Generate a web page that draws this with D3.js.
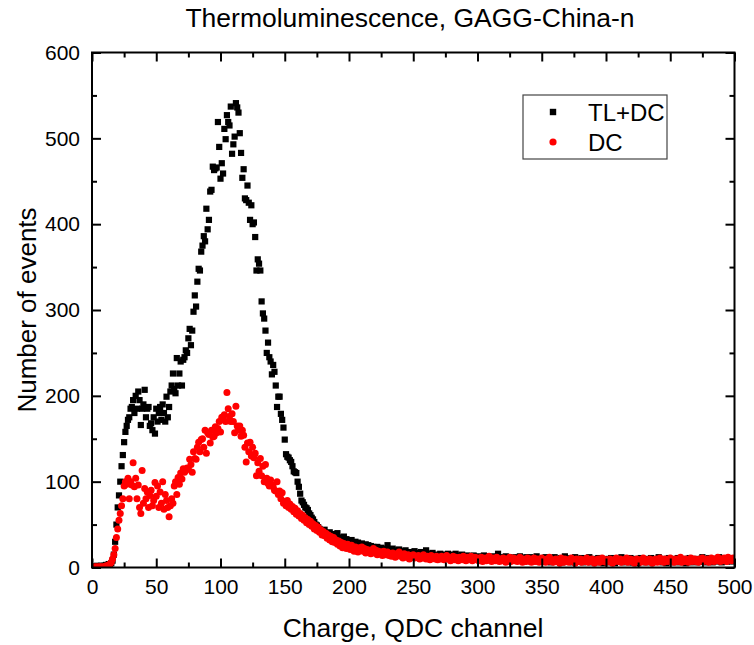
<!DOCTYPE html>
<html>
<head>
<meta charset="utf-8">
<script src="https://cdn.jsdelivr.net/npm/d3@7/dist/d3.min.js"></script>
<style>
  html, body { margin: 0; padding: 0; background: #fff; }
  svg { display: block; font-family: "Liberation Sans", Arial, sans-serif; }
</style>
</head>
<body>
<svg id="chart" width="754" height="645"></svg>
<script>
// ---- Data (channel index = array position, 0..500) ----
const chartTitle = "Thermoluminescence, GAGG-China-n";
const xLabel = "Charge, QDC channel";
const yLabel = "Number of events";
const seriesNames = ["TL+DC", "DC"];

const tlDC = [
0,1,0,1,2,1,1,2,1,2,
2,3,2,4,3,5,8,15,30,50,
70,84,100,118,131,146,158,165,172,175,
185,187,195,180,200,185,205,195,166,185,
190,207,175,185,187,165,168,160,175,156,
185,170,180,187,172,190,180,170,199,175,
187,205,212,226,208,203,244,212,226,240,
212,242,245,253,250,267,278,259,276,298,
317,304,333,348,346,368,375,386,380,418,
394,405,438,440,467,463,465,466,519,490,
453,471,459,511,499,527,519,515,537,482,
493,502,541,536,530,506,483,454,464,430,
428,445,425,405,422,400,402,385,346,359,
354,346,310,296,290,276,250,262,245,240,
225,236,228,212,187,199,199,179,172,163,
149,132,129,128,125,123,118,112,111,110,
100,94,86,78,76,73,70,69,67,63,
61,58,56,53,50,49,47,45,43,42,
41,44,38,40,36,41,35,37,39,34,
37,40,33,35,31,34,36,30,33,29,
30,27,32,28,26,30,25,29,27,24,
28,25,23,27,24,26,22,25,21,24,
23,20,24,22,19,23,21,18,22,20,
26,19,21,18,22,17,20,19,16,21,
18,15,19,17,20,16,14,18,15,17,
16,19,14,17,13,16,18,12,15,17,
20,14,16,12,15,17,13,15,11,14,
13,16,12,14,15,11,13,16,12,14,
12,15,11,16,13,10,14,12,15,11,
13,10,14,12,9,13,11,14,10,12,
11,13,9,12,10,14,8,11,13,9,
12,10,8,13,11,9,16,10,12,8,
11,9,13,10,7,12,9,11,8,10,
12,8,10,13,9,11,7,10,12,8,
10,12,7,9,11,8,13,9,10,7,
9,11,8,12,7,10,9,6,11,8,
12,9,7,10,8,11,6,9,13,8,
10,7,9,11,6,8,12,7,9,10,
8,11,6,9,7,10,8,12,6,9,
7,10,8,6,11,9,7,10,5,8,
9,6,10,8,11,7,9,5,8,10,
7,9,12,6,8,10,7,9,6,11,
8,6,10,7,9,5,8,11,7,9,
10,6,8,9,7,11,6,8,10,7,
9,12,7,8,6,10,8,5,9,11,
7,9,6,10,8,7,11,6,9,8,
10,7,5,9,8,11,6,9,7,10,
8,6,9,7,10,12,7,8,6,9,
11,7,9,6,8,10,7,9,12,8,
6,9,8,10,7,9,11,8,7,9,
10
];

const dcOnly = [
0,0,1,0,1,0,1,1,0,1,
1,2,1,3,4,6,10,15,22,35,
45,55,63,72,80,95,100,97,104,80,
100,96,122,94,104,80,96,70,63,113,
75,92,80,88,70,84,90,72,78,99,
83,95,70,88,75,100,68,85,78,70,
59,72,80,75,95,100,85,105,97,110,
103,115,111,113,116,115,126,120,111,135,
127,126,140,146,135,149,150,140,160,133,
157,155,145,160,152,153,164,157,162,170,
158,175,172,178,170,204,185,176,170,179,
170,157,188,165,160,165,153,160,154,140,
123,145,135,146,130,140,128,133,107,122,
112,127,107,118,100,120,104,98,95,102,
96,94,90,89,100,85,89,80,87,75,
77,72,78,70,74,68,71,65,69,62,
66,60,63,57,61,55,58,52,56,50,
54,48,51,45,49,43,47,41,44,38,
42,37,40,34,38,32,36,30,35,29,
32,27,31,25,29,23,28,26,22,27,
25,21,26,23,19,24,22,18,23,20,
24,19,22,17,21,18,20,16,19,22,
17,20,15,19,16,18,14,19,15,17,
18,14,16,13,17,15,12,16,14,18,
13,15,11,16,14,12,15,10,14,13,
15,11,13,12,14,10,13,11,15,12,
10,13,12,9,14,11,12,10,13,9,
12,10,13,11,9,12,14,10,11,8,
11,13,9,12,10,8,12,11,9,13,
10,8,12,9,11,13,8,10,12,9,
11,8,10,12,7,9,11,8,10,13,
9,7,11,10,8,12,9,7,10,8,
11,9,6,10,8,12,7,9,11,8,
10,7,9,12,8,6,10,9,7,11,
8,10,6,9,11,7,8,10,6,9,
11,7,9,6,10,8,12,7,9,6,
8,10,7,9,5,11,8,6,10,7,
9,6,8,11,7,9,5,10,8,7,
10,6,9,7,8,11,6,9,7,10,
8,5,9,7,10,6,8,11,7,9,
6,9,7,10,8,5,9,7,11,8,
7,10,6,8,9,7,11,6,8,10,
7,9,5,8,10,7,9,6,8,11,
8,6,9,7,10,8,5,9,7,10,
6,8,11,7,9,6,10,8,7,9,
11,7,8,6,10,9,7,8,12,6,
9,7,10,8,6,9,11,7,8,10,
7,9,6,10,8,11,7,9,8,10,
6,9,11,8,7,10,8,12,9,7,
10,8,11,9,7,12,9,10,8,11,
9
];

const xTicks = [0, 50, 100, 150, 200, 250, 300, 350, 400, 450, 500];
const xMinorTicks = [25, 75, 125, 175, 225, 275, 325, 375, 425, 475];
const yTicks = [0, 100, 200, 300, 400, 500, 600];
const yMinorTicks = [50, 150, 250, 350, 450, 550];

// ---- Layout ----
const svg = d3.select("#chart");
const L = 92, R = 734.5, T = 52.5, B = 567.5;

const x = d3.scaleLinear().domain([0, 500]).range([L, R]);
const y = d3.scaleLinear().domain([0, 600]).range([B, T]);

// Title
svg.append("text")
  .attr("x", 410).attr("y", 27)
  .attr("text-anchor", "middle")
  .attr("font-size", 26.5)
  .attr("fill", "#000")
  .text(chartTitle);

// Clip for data
svg.append("clipPath").attr("id", "clip")
  .append("rect").attr("x", L).attr("y", T).attr("width", R - L).attr("height", B - T);

const dataG = svg.append("g").attr("clip-path", "url(#clip)");

// TL+DC squares
const sq = 6.2;
dataG.append("g").selectAll("rect")
  .data(tlDC)
  .join("rect")
  .attr("x", (d, i) => x(i) - sq / 2)
  .attr("y", d => y(d) - sq / 2)
  .attr("width", sq).attr("height", sq)
  .attr("fill", "#000");

// DC circles
dataG.append("g").selectAll("circle")
  .data(dcOnly)
  .join("circle")
  .attr("cx", (d, i) => x(i))
  .attr("cy", d => y(d))
  .attr("r", 3.5)
  .attr("fill", "#ff0000");

// Axes with inward ticks on all four sides
const axW = 2;
function addAxis(axisGen, transform) {
  const g = svg.append("g").attr("transform", transform).call(axisGen);
  g.select(".domain").remove();
  g.selectAll(".tick line").attr("stroke", "#000").attr("stroke-width", axW);
  return g;
}
// Bottom
const bx = addAxis(d3.axisBottom(x).tickValues(xTicks).tickSizeInner(-9).tickSizeOuter(0).tickPadding(12), `translate(0,${B})`);
bx.selectAll("text").attr("font-size", 21).attr("fill", "#000").attr("font-family", "Liberation Sans, Arial, sans-serif");
addAxis(d3.axisBottom(x).tickValues(xMinorTicks).tickSizeInner(-5).tickSizeOuter(0).tickFormat(""), `translate(0,${B})`);
// Top
addAxis(d3.axisTop(x).tickValues(xTicks).tickSizeInner(-9).tickSizeOuter(0).tickFormat(""), `translate(0,${T})`);
addAxis(d3.axisTop(x).tickValues(xMinorTicks).tickSizeInner(-5).tickSizeOuter(0).tickFormat(""), `translate(0,${T})`);
// Left
const ly = addAxis(d3.axisLeft(y).tickValues(yTicks).tickSizeInner(-9).tickSizeOuter(0).tickPadding(12), `translate(${L},0)`);
ly.selectAll("text").attr("font-size", 21).attr("fill", "#000").attr("font-family", "Liberation Sans, Arial, sans-serif");
addAxis(d3.axisLeft(y).tickValues(yMinorTicks).tickSizeInner(-5).tickSizeOuter(0).tickFormat(""), `translate(${L},0)`);
// Right
addAxis(d3.axisRight(y).tickValues(yTicks).tickSizeInner(-9).tickSizeOuter(0).tickFormat(""), `translate(${R},0)`);
addAxis(d3.axisRight(y).tickValues(yMinorTicks).tickSizeInner(-5).tickSizeOuter(0).tickFormat(""), `translate(${R},0)`);

// Frame
svg.append("rect")
  .attr("x", L).attr("y", T).attr("width", R - L).attr("height", B - T)
  .attr("fill", "none").attr("stroke", "#000").attr("stroke-width", axW);

// Axis titles
svg.append("text")
  .attr("x", 413).attr("y", 637)
  .attr("text-anchor", "middle")
  .attr("font-size", 26.5)
  .attr("fill", "#000")
  .text(xLabel);

svg.append("text")
  .attr("transform", `translate(36,${(T + B) / 2}) rotate(-90)`)
  .attr("text-anchor", "middle")
  .attr("font-size", 26)
  .attr("fill", "#000")
  .text(yLabel);

// Legend
const lg = svg.append("g");
lg.append("rect")
  .attr("x", 523).attr("y", 95).attr("width", 144).attr("height", 64)
  .attr("fill", "#fff").attr("stroke", "#444").attr("stroke-width", 1.2);
lg.append("rect").attr("x", 553 - 3.2).attr("y", 112 - 3.2).attr("width", 6.4).attr("height", 6.4).attr("fill", "#000");
lg.append("circle").attr("cx", 553).attr("cy", 142).attr("r", 3.6).attr("fill", "#ff0000");
lg.append("text").attr("x", 588).attr("y", 121).attr("font-size", 24).attr("fill", "#000").text(seriesNames[0]);
lg.append("text").attr("x", 588).attr("y", 151).attr("font-size", 24).attr("fill", "#000").text(seriesNames[1]);
</script>
</body>
</html>
